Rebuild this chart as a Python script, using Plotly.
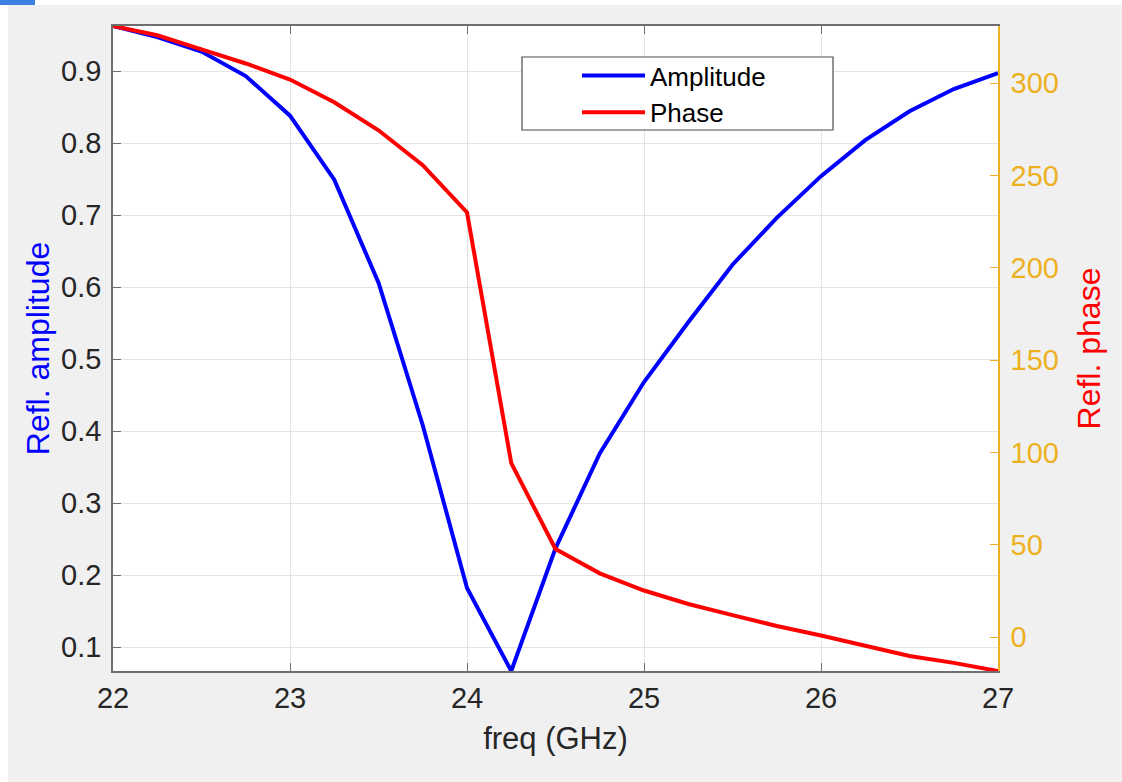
import plotly.graph_objects as go

freq = [22.0, 22.25, 22.5, 22.75, 23.0, 23.25, 23.5, 23.75, 24.0, 24.25, 24.5,
        24.75, 25.0, 25.25, 25.5, 25.75, 26.0, 26.25, 26.5, 26.75, 27.0]
amplitude = [0.9625, 0.947, 0.927, 0.893, 0.838, 0.749, 0.606, 0.408, 0.182, 0.0667, 0.237,
             0.369, 0.468, 0.551, 0.631, 0.696, 0.754, 0.804, 0.844, 0.875, 0.897]
phase = [331.0, 326.0, 318.3, 310.7, 302.0, 289.7, 274.5, 255.6, 230.0, 94.2, 47.7,
         34.5, 25.2, 17.9, 11.9, 6.0, 0.8, -4.9, -10.3, -14.0, -18.4]

x_ticks = [22, 23, 24, 25, 26, 27]
amp_ticks = [0.1, 0.2, 0.3, 0.4, 0.5, 0.6, 0.7, 0.8, 0.9]
phase_ticks = [0, 50, 100, 150, 200, 250, 300]

FONT = "Liberation Sans, Arial, Helvetica, sans-serif"
AX = "#262626"
ORANGE = "#EDB120"

W, H = 1122, 782
L, R, T, B = 113, 124, 26, 111
PW, PH = W - L - R, H - T - B


def px(x):
    return (x - L) / PW


def py(y):
    return (H - B - y) / PH


fig = go.Figure()
fig.add_trace(go.Scatter(x=freq, y=amplitude, name="Amplitude", mode="lines",
                         line=dict(color="#0000FF", width=4), yaxis="y"))
fig.add_trace(go.Scatter(x=freq, y=phase, name="Phase", mode="lines",
                         line=dict(color="#FF0000", width=4), yaxis="y2"))

shapes = [
    # white strips at the window edge
    dict(type="rect", xref="paper", yref="paper", x0=px(0), x1=px(W), y0=py(5), y1=py(0),
         fillcolor="white", line=dict(width=0), layer="below"),
    dict(type="rect", xref="paper", yref="paper", x0=px(0), x1=px(8), y0=py(H), y1=py(5),
         fillcolor="white", line=dict(width=0), layer="below"),
    dict(type="rect", xref="paper", yref="paper", x0=px(0), x1=px(35), y0=py(5), y1=py(0),
         fillcolor="#3D7FE0", line=dict(width=0), layer="below"),
    # legend box
    dict(type="rect", xref="paper", yref="paper", x0=px(522), x1=px(833), y0=py(130), y1=py(57),
         fillcolor="white", line=dict(color="#4d4d4d", width=1.2), layer="above"),
]

fig.update_layout(
    width=W, height=H,
    margin=dict(l=L, r=R, t=T, b=B),
    paper_bgcolor="#F0F0F0",
    plot_bgcolor="white",
    font=dict(family=FONT, size=29, color=AX),
    showlegend=True,
    legend=dict(x=px(577), y=py(52), xanchor="left", yanchor="top",
                bgcolor="rgba(0,0,0,0)", borderwidth=0,
                font=dict(family=FONT, size=26, color="black"),
                itemwidth=63, tracegroupgap=0),
    xaxis=dict(range=[min(freq), max(freq)], tickvals=x_ticks,
               ticktext=[str(v) for v in x_ticks],
               showgrid=True, gridcolor="#E3E3E3", gridwidth=1,
               showline=True, linecolor="#6e6e6e", linewidth=1.5, mirror="ticks",
               ticks="inside", ticklen=8, tickcolor="#6e6e6e",
               tickfont=dict(size=29, color=AX), zeroline=False,
               title=dict(text="freq (GHz)", font=dict(size=31, color=AX), standoff=15)),
    yaxis=dict(range=[min(amplitude), max(amplitude)], tickvals=amp_ticks,
               ticktext=[f"{v:.1f}" for v in amp_ticks],
               showgrid=True, gridcolor="#E3E3E3", gridwidth=1,
               showline=True, linecolor="#6e6e6e", linewidth=1.5, mirror=False,
               ticks="inside", ticklen=8, tickcolor="#6e6e6e", ticklabelstandoff=4,
               tickfont=dict(size=29, color=AX), zeroline=False,
               title=dict(text="Refl. amplitude", font=dict(size=32, color="#0000FF"), standoff=2)),
    yaxis2=dict(range=[min(phase), max(phase)], tickvals=phase_ticks,
                ticktext=[str(v) for v in phase_ticks],
                overlaying="y", side="right", showgrid=False,
                showline=True, linecolor=ORANGE, linewidth=1.5,
                ticks="inside", ticklen=8, tickcolor=ORANGE, ticklabelstandoff=5,
                tickfont=dict(size=29, color=ORANGE), zeroline=False,
                title=dict(text="Refl. phase", font=dict(size=32, color="#FF0000"), standoff=20)),
    shapes=shapes,
)

fig.write_html(
    "out.html",
    config={"displayModeBar": False},
    post_script="document.body.style.margin='0';document.body.style.overflow='hidden';",
)
